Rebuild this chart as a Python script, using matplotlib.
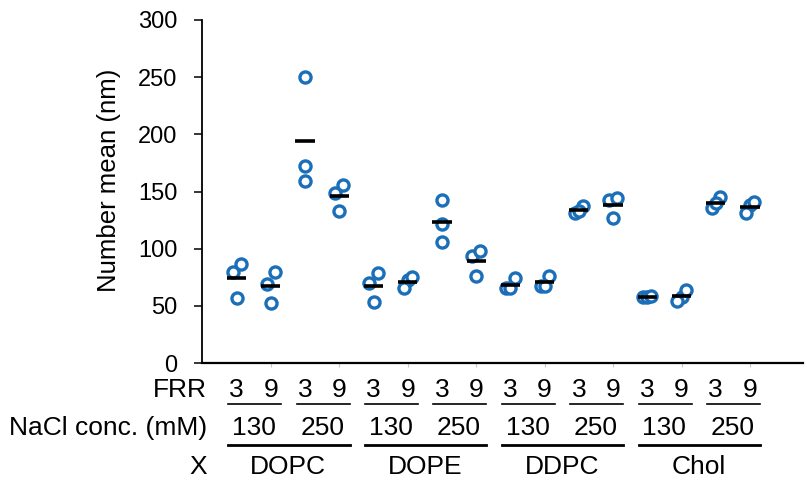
import numpy as np
import matplotlib
matplotlib.use("Agg")
import matplotlib.pyplot as plt
from matplotlib.transforms import blended_transform_factory

plt.rcParams['font.family'] = ['Liberation Sans', 'DejaVu Sans']

# Replicate measurements (number mean, nm), ordered NaCl 130/250 x FRR 3/9
lipids = ["DOPC", "DOPE", "DDPC", "Chol"]
nacl_levels = ["130", "250"]
frr_levels = ["3", "9"]

dopc = [[79.4, 86.2, 56.6], [69.2, 79.4, 52.8], [250.0, 172.4, 159.2], [148.4, 155.9, 133.1]]
dope = [[70.1, 78.9, 53.6], [73.0, 75.0, 65.7], [142.5, 121.4, 105.8], [93.2, 97.9, 76.5]]
ddpc = [[65.3, 74.1, 65.3], [67.7, 75.9, 67.7], [130.8, 137.2, 132.8], [142.5, 144.5, 126.9]]
chol = [[57.4, 58.0, 58.7], [58.0, 63.9, 54.5], [135.7, 144.8, 140.1], [138.1, 140.5, 131.3]]

yticks = [0, 50, 100, 150, 200, 250, 300]

conditions = dopc + dope + ddpc + chol
n = len(conditions)
xpos = np.arange(1, n + 1)

W, H = 807, 487
fig = plt.figure(figsize=(W / 100, H / 100), dpi=100)
ax_left, ax_right, ax_top, ax_bot = 202.4, 803, 20, 363
ax = fig.add_axes([ax_left / W, 1 - ax_bot / H, (ax_right - ax_left) / W, (ax_bot - ax_top) / H])

blue = "#1A6FB8"
step = 0.12      # horizontal spread for crowded points
gap_thr = 12.0   # values closer than this are spread sideways


def spread(vals):
    order = np.argsort(vals)
    offs = np.zeros(len(vals))
    clusters, cur = [], [order[0]]
    for a, b in zip(order[:-1], order[1:]):
        if vals[b] - vals[a] < gap_thr:
            cur.append(b)
        else:
            clusters.append(cur)
            cur = [b]
    clusters.append(cur)
    for cl in clusters:
        k = len(cl)
        if k == 2:
            o = np.array([-step, step])
        elif k > 2:
            o = np.linspace(-step, step, k)
        else:
            o = np.zeros(1)
        for idx, oo in zip(cl, o):
            offs[idx] = oo
    return offs


for x, vals in zip(xpos, conditions):
    vals = np.asarray(vals)
    offs = spread(vals)
    ax.plot(x + offs, vals, linestyle="none", marker="o", ms=8.0, mew=2.4,
            mfc="white", mec=blue, zorder=3)
    ax.hlines(np.mean(vals), x - 0.28, x + 0.28, color="black", lw=2.6, zorder=4)

ax.set_xlim(0, 17.55)
ax.set_ylim(0, 300)
ax.set_yticks(yticks)
ax.tick_params(axis="y", labelsize=17, length=6, width=1.1, pad=12, color="black")
ax.set_xticks([])
ax.set_xticks(xpos[1::2], minor=True)
ax.tick_params(axis="x", which="minor", length=3, width=0.8, color="#c8c8c8")
for s in ("top", "right"):
    ax.spines[s].set_visible(False)
ax.spines["left"].set_linewidth(1.3)
ax.spines["bottom"].set_linewidth(1.6)
ax.set_ylabel("Number mean (nm)", fontsize=18.5)
ax.yaxis.set_label_coords((121 - ax_left) / (ax_right - ax_left), (ax_bot - 180) / (ax_bot - ax_top))

trans = blended_transform_factory(ax.transData, fig.transFigure)
fy = lambda px: 1 - px / H
lab_fs = 19

row_x = 207 / W
fig.text(row_x, fy(390), "FRR", ha="right", va="center", fontsize=lab_fs)
fig.text(row_x, fy(428), "NaCl conc. (mM)", ha="right", va="center", fontsize=lab_fs)
fig.text(row_x, fy(467), "X", ha="right", va="center", fontsize=lab_fs)

for i, x in enumerate(xpos):
    ax.text(x, fy(390), frr_levels[i % 2], transform=trans, ha="center", va="center",
            fontsize=lab_fs, clip_on=False)

for j in range(n // 2):
    x0, x1 = xpos[2 * j], xpos[2 * j + 1]
    ax.plot([x0 - 0.25, x1 + 0.3], [fy(404), fy(404)], transform=trans, color="black",
            lw=1.2, clip_on=False)
    ax.text((x0 + x1) / 2, fy(428), nacl_levels[j % 2], transform=trans, ha="center",
            va="center", fontsize=lab_fs, clip_on=False)

for k, name in enumerate(lipids):
    x0, x1 = xpos[4 * k], xpos[4 * k + 3]
    ax.plot([x0 - 0.25, x1 + 0.3], [fy(445), fy(445)], transform=trans, color="black",
            lw=2.0, clip_on=False)
    ax.text((x0 + x1) / 2, fy(467), name, transform=trans, ha="center", va="center",
            fontsize=lab_fs, clip_on=False)

fig.savefig("out.png", dpi=100)
